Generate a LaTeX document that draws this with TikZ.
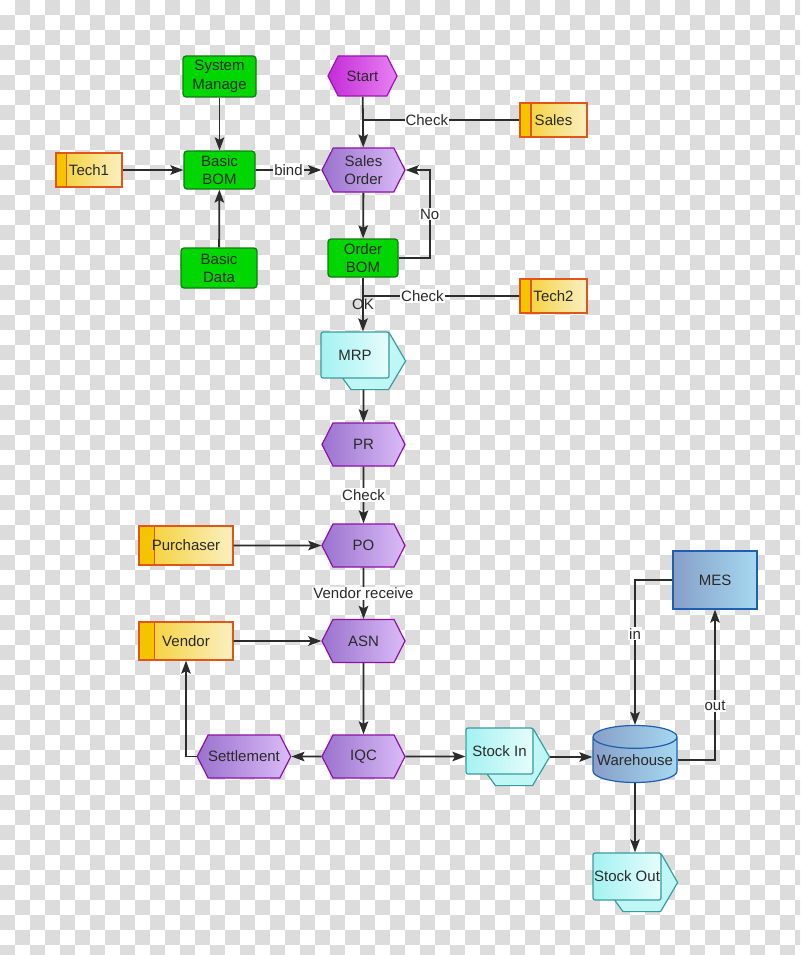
\documentclass[tikz,border=0pt]{standalone}
\usepackage{fontspec}
\setmainfont{Liberation Sans}
\usepackage{xcolor}
\usetikzlibrary{positioning,calc,arrows.meta,shapes.symbols,shapes.geometric}
\definecolor{lineclr}{HTML}{2C2C2C}
\definecolor{textclr}{HTML}{2A2A2A}
\definecolor{gridclr}{HTML}{DCDCDC}
\definecolor{greenfill}{HTML}{00D600}
\definecolor{greendraw}{HTML}{107A10}
\definecolor{purpleL}{HTML}{9A72CE}
\definecolor{purpleR}{HTML}{DBBBF7}
\definecolor{purpledraw}{HTML}{8E10A8}
\definecolor{startL}{HTML}{C52BD8}
\definecolor{startR}{HTML}{E782F2}
\definecolor{startdraw}{HTML}{A010B8}
\definecolor{roleL}{HTML}{F4CE2A}
\definecolor{roleR}{HTML}{FAF0C2}
\definecolor{rolestripe}{HTML}{F5C400}
\definecolor{roledraw}{HTML}{E0561A}
\definecolor{docL}{HTML}{A4F2F2}
\definecolor{docR}{HTML}{E6FCFC}
\definecolor{docdraw}{HTML}{3A9C9C}
\definecolor{blueL}{HTML}{869FC8}
\definecolor{blueR}{HTML}{A6D8F0}
\definecolor{bluedraw}{HTML}{1F5FB0}
\pgfdeclarelayer{grid}
\pgfdeclarelayer{behind}
\pgfsetlayers{grid,behind,main}
% back sheet of a document node, plus its tip and foot points
\newcommand{\docback}[1]{%
  \begin{pgfonlayer}{behind}
    \draw[docsheet] ($(#1.north east)+(0,2)$) -- ($(#1.east)+(16,6)$)
      -- ($(#1.south east)+(-1,11)$) -- ($(#1.south)+(-4,11)$)
      -- ($(#1.south)+(-12,0)$) -- cycle;
  \end{pgfonlayer}
  \coordinate (#1-tip) at ($(#1.east)+(16,6)$);
  \coordinate (#1-foot) at ($(#1.south)+(8,11)$);}

\begin{document}
\begin{tikzpicture}[x=1pt,y=-1pt,
  every node/.style={text=textclr, font=\fontsize{15}{18.5}\selectfont, align=center},
  greenbox/.style={draw=greendraw, fill=greenfill, rounded corners=3pt, line width=1.2pt, inner sep=0pt},
  hexa/.style={signal, signal to=east and west, signal pointer angle=126, draw=purpledraw,
    left color=purpleL, right color=purpleR, line width=1.2pt, minimum width=83pt, minimum height=43pt, inner sep=0pt},
  startcol/.style={draw=startdraw, left color=startL, right color=startR},
  role/.style={draw=roledraw, left color=roleL, right color=roleR, line width=1.2pt, minimum height=34pt,
    path picture={
      \fill[rolestripe] (path picture bounding box.south west) rectangle
        ($(path picture bounding box.north west)!0.165!(path picture bounding box.north east)$);
      \draw[roledraw, line width=1.2pt]
        ($(path picture bounding box.north west)!0.165!(path picture bounding box.north east)$) --
        ($(path picture bounding box.south west)!0.165!(path picture bounding box.south east)$);}},
  doc/.style={draw=docdraw, left color=docL, right color=docR, line width=1.2pt, rounded corners=2pt,
    minimum width=68pt, minimum height=46pt, inner sep=1pt},
  docsheet/.style={draw=docdraw, fill=docL!70!white, line width=1.2pt},
  store/.style={cylinder, shape border rotate=90, aspect=0.3, draw=bluedraw, left color=blueL, right color=blueR,
    line width=1.2pt, minimum width=84pt, minimum height=57pt, inner sep=0pt},
  sysbox/.style={draw=bluedraw, left color=blueL, right color=blueR, line width=1.2pt,
    minimum width=84pt, minimum height=58pt},
  flow/.style={draw=lineclr, line width=1.8pt, -{Stealth[length=13pt,width=9.5pt,inset=2.5pt]}},
  link/.style={draw=lineclr, line width=1.8pt},
  lbl/.style={fill=white, inner sep=1pt}]

  \useasboundingbox (0,0) rectangle (800,955);
  \begin{pgfonlayer}{grid}
    \begin{scope}
      \clip (0,0) rectangle (800,955);
      \fill[white] (0,0) rectangle (800,955);
      \foreach \r in {0,...,63} {
        \pgfmathtruncatemacro\sh{mod(\r+1,2)}
        \foreach \k in {0,...,26} {
          \fill[gridclr] ({15*(2*\k+\sh)},{15*\r}) rectangle ++(15,15);
        }
      }
    \end{scope}
  \end{pgfonlayer}

  % bom side
  \node[greenbox, minimum width=73pt, minimum height=41pt] (sysman) at (219.5,76.5) {System\\Manage};
  \node[greenbox, minimum width=71pt, minimum height=38pt] (bbom) at (219.5,170) {Basic\\BOM};
  \node[greenbox, minimum width=76pt, minimum height=40pt] (bdata) at (219,268) {Basic\\Data};
  \node[role, minimum width=66pt] (tech1) at (89,170) {Tech1};

  % order chain
  \node[hexa, startcol, minimum width=69pt, minimum height=40pt] (start) at (362.5,76) {Start};
  \node[hexa, minimum height=44pt] (sorder) at (363.5,170) {Sales\\Order};
  \node[role, minimum width=67pt] (sales) at (553.5,120) {Sales};
  \node[greenbox, minimum width=70pt, minimum height=38pt] (obom) at (363,258) {Order\\BOM};
  \node[role, minimum width=67pt] (tech2) at (553.5,296) {Tech2};
  \node[doc] (mrp) at (355,355) {MRP};
  \node[hexa] (pr) at (363.5,444.5) {PR};
  \node[hexa] (po) at (363.5,545.5) {PO};
  \node[role, minimum width=94pt, minimum height=39pt] (purch) at (186,545.5) {Purchaser};
  \node[hexa] (asn) at (363.5,641) {ASN};
  \node[role, minimum width=94pt, minimum height=38pt] (vendor) at (186,641) {Vendor};
  \node[hexa] (iqc) at (363.5,756.5) {IQC};
  \node[hexa, minimum width=92pt] (settle) at (244,756.5) {Settlement};

  % stock side
  \node[doc, minimum width=67pt] (stockin) at (499.5,751) {Stock In};
  \node[store] (wh) at (635,760) {Warehouse};
  \node[sysbox] (mes) at (715,580) {MES};
  \node[doc, minimum height=47pt] (stockout) at (627,876.5) {Stock Out};
  \docback{mrp}
  \docback{stockin}
  \docback{stockout}

  \draw[flow] (sysman) -- (bbom);
  \draw[flow] (bdata) -- (bbom);
  \draw[flow] (tech1) -- (bbom);
  \draw[flow] (bbom) -- node[lbl] {bind} (sorder);
  \draw[flow] (start) -- (sorder);
  \draw[link] (sales) -- node[lbl, pos=0.59] {Check} (sales -| start);
  \draw[flow] (sorder) -- (obom);
  \draw[flow] (obom.east) -- ++(31,0) |- node[lbl, pos=0.25] {No} (sorder.east);
  \draw[flow] (obom) -- node {OK} (obom |- mrp.north);
  \draw[link] (tech2) -- node[lbl, pos=0.62] {Check} (tech2 -| obom);
  \draw[flow] (pr |- mrp-foot) -- (pr);
  \draw[flow] (pr) -- node[lbl] {Check} (po);
  \draw[flow] (purch) -- (po);
  \draw[flow] (po) -- node[lbl] {Vendor receive} (asn);
  \draw[flow] (vendor) -- (asn);
  \draw[flow] (asn) -- (iqc);
  \draw[flow] (iqc) -- (settle);
  \draw[flow] (settle) -| (vendor);
  \draw[flow] (iqc) -- (iqc -| stockin.west);
  \draw[flow] (stockin-tip) -- (stockin-tip -| wh.west);
  \draw[flow] (mes) -| node[lbl, pos=0.686] {in} (wh);
  \draw[flow] (wh) -| node[lbl, pos=0.68] {out} (mes);
  \draw[flow] (wh) -- (wh |- stockout.north);
\end{tikzpicture}
\end{document}
